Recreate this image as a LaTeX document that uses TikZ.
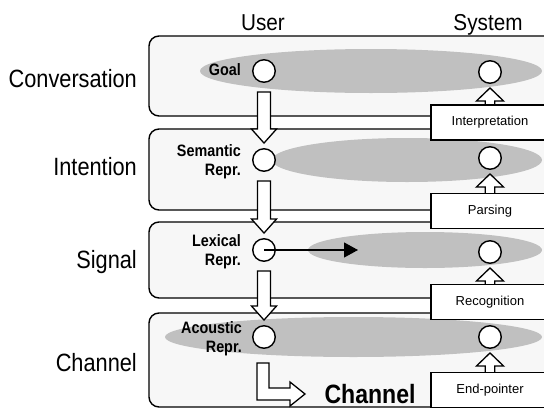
\documentclass[tikz,border=0pt]{standalone}
\usepackage{fontspec}
\setmainfont{Liberation Sans}
\newfontfamily\condfont[FakeStretch=0.87]{Liberation Sans}
\newfontfamily\headfont[FakeStretch=0.9]{Liberation Sans}
\usetikzlibrary{arrows.meta,calc}
\definecolor{layerfill}{HTML}{F7F7F7}
\definecolor{blobgray}{HTML}{C0C0C0}
\newcommand\mydownflow[2]{%
  \path[hollow] let \p1=(#1.south), \p2=(#2.north) in
   (\x1-6.5pt,\y1-9pt) -- (\x1+6.5pt,\y1-9pt) -- (\x1+6.5pt,\y2+19pt) -- (\x1+12.5pt,\y2+19pt)
   -- (\x1,\y2+5pt) -- (\x1-12.5pt,\y2+19pt) -- (\x1-6.5pt,\y2+19pt) -- cycle;}
\newcommand\myupflow[2]{%
  \path[hollow] let \p1=(#1.north), \p2=(#2.south) in
   (\x2-4.8pt,\y1-3pt) -- (\x2-4.8pt,\y2-17pt) -- (\x2-13.5pt,\y2-17pt) -- (\x2,\y2-4pt)
   -- (\x2+13.5pt,\y2-17pt) -- (\x2+4.8pt,\y2-17pt) -- (\x2+4.8pt,\y1-3pt);}
\begin{document}
\begin{tikzpicture}[x=1pt,y=-1pt,
  layer/.style={draw=black,line width=1.4pt,fill=layerfill,rounded corners=10pt},
  blob/.style={fill=blobgray},
  st/.style={circle,draw=black,fill=white,line width=1.4pt,minimum size=22.5pt,inner sep=0pt},
  proc/.style={draw=black,fill=white,line width=1.4pt,minimum width=118pt,minimum height=35pt,inner sep=0pt,font=\fontsize{13}{15}\selectfont},
  rowlabel/.style={anchor=base east,inner sep=0pt,font=\condfont\fontsize{25}{30}\selectfont},
  colhead/.style={anchor=base,inner sep=0pt,font=\headfont\fontsize{23}{28}\selectfont},
  replabel/.style={anchor=east,align=right,inner sep=0pt,font=\condfont\bfseries\fontsize{16.5}{19}\selectfont},
  hollow/.style={draw=black,fill=white,line width=1.3pt,line join=miter},
  flow/.style={draw=black,line width=1.2pt,-{Triangle[length=14pt,width=15pt]}}
]
\useasboundingbox (0,0) rectangle (544,410);
\fill[white] (0,0) rectangle (544,410);
\begin{scope}
\clip (0,0) rectangle (544,410);
% layers
\draw[layer] (149,36) rectangle (600,116);
\draw[layer] (149,129) rectangle (600,210);
\draw[layer] (149,222) rectangle (600,298);
\draw[layer] (149,313) rectangle (600,407);
% shared-state blobs
\fill[blob] (371,71) ellipse [x radius=171pt, y radius=22pt];
\fill[blob] (407,160) ellipse [x radius=135pt, y radius=22pt];
\fill[blob] (425,250) ellipse [x radius=117pt, y radius=18pt];
\fill[blob] (353.5,337) ellipse [x radius=188.5pt, y radius=20pt];
% states
\node[st] (ugoal) at (264,71) {};
\node[st] (usem) at (264,160) {};
\node[st] (ulex) at (264,250) {};
\node[st] (uac) at (264,337) {};
\node[st] (sgoal) at (490,72) {};
\node[st] (ssem) at (490,158) {};
\node[st] (slex) at (490,252) {};
\node[st] (sac) at (490,337) {};
% user generation arrows
\mydownflow{ugoal}{usem}
\mydownflow{usem}{ulex}
\mydownflow{ulex}{uac}
% lexical flow
\coordinate (lexend) at (358,250);
\draw[flow] (ulex.center) -- (lexend);
% L arrow into channel
\path[hollow] (257,363) -- (269,363) -- (269,388) -- (290,388) -- (290,382) -- (305,394)
  -- (290,406) -- (290,400) -- (257,400) -- cycle;
\node[font=\condfont\bfseries\fontsize{26.5}{30}\selectfont,anchor=base,inner sep=0pt] (chan) at (370,403.5) {Channel};
% system process boxes
\coordinate (pi) at (490,122.5);
\coordinate (pp) at (490,211);
\coordinate (pr) at (490,302);
\coordinate (pe) at (490,390);
\node[proc,draw=none,fill=none] (interp0) at (pi) {};
\node[proc,draw=none,fill=none] (parse0) at (pp) {};
\node[proc,draw=none,fill=none] (recog0) at (pr) {};
\node[proc,draw=none,fill=none] (endp0) at (pe) {};
\myupflow{interp0}{sgoal}
\myupflow{parse0}{ssem}
\myupflow{recog0}{slex}
\myupflow{endp0}{sac}
\node[proc] (interp) at (pi) {Interpretation};
\node[proc] (parse) at (pp) {Parsing};
\node[proc] (recog) at (pr) {Recognition};
\node[proc] (endp) at (pe) {End-pointer};
% representation labels
\node[replabel] (lgoal) at (241,70) {Goal};
\node[replabel] (lsem) at (241,162) {Semantic\\Repr.};
\node[replabel] (llex) at (241,252) {Lexical\\Repr.};
\node[replabel] (lac) at (242,339) {Acoustic\\Repr.};
\end{scope}
% row labels
\node[rowlabel] (rconv) at (137,87) {Conversation};
\node[rowlabel] (rint) at (137,175) {Intention};
\node[rowlabel] (rsig) at (137,268) {Signal};
\node[rowlabel] (rchan) at (137,371) {Channel};
% column heads
\node[colhead] (huser) at (263,30) {User};
\node[colhead] (hsys) at (488,30) {System};
\end{tikzpicture}
\end{document}
